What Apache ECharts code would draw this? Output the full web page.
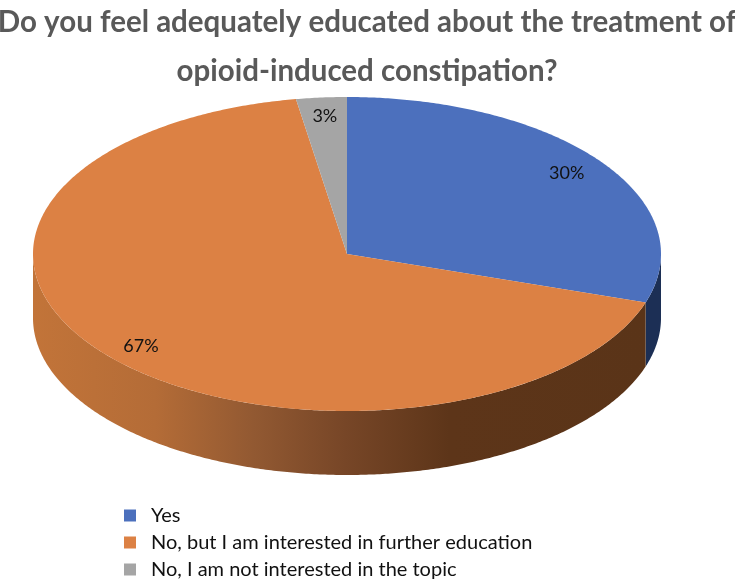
<!DOCTYPE html>
<html><head><meta charset="utf-8">
<style>html,body{margin:0;padding:0;background:#fff}#c{width:735px;height:581px}</style>
<script src="https://cdn.jsdelivr.net/npm/echarts@6/dist/echarts.min.js"></script>
</head><body><div id="c"></div>
<script>
const titleText = 'Do you feel adequately educated about the treatment of\nopioid-induced constipation?';
const categories = ['Yes', 'No, but I am interested in further education', 'No, I am not interested in the topic'];
const shares = [30, 67.4, 2.6];
const topColors = ['#4c70bd', '#dc8144', '#a5a5a5'];
const wallStops = [
  [[0, '#1c2f55'], [1, '#1c2f55']],
  [[0, '#c27439'], [0.2, '#b46c37'], [0.36, '#925932'], [0.51, '#774627'], [0.68, '#5d3519'], [1, '#5a3418']],
  [[0, '#666666'], [1, '#666666']]
];
const cx = 347, cy = 254, rx = 314, ry = 157, depth = 64;
const total = shares.reduce((a, b) => a + b, 0);
const pt = (deg, dy) => [cx + rx * Math.sin(deg * Math.PI / 180), cy - ry * Math.cos(deg * Math.PI / 180) + (dy || 0)];
function arc(a, b, dy) {
  const out = [], n = Math.max(2, Math.ceil((b - a) * 2));
  for (let i = 0; i <= n; i++) out.push(pt(a + (b - a) * i / n, dy));
  return out;
}
function makeRender(idx) {
  return function () {
    const start = shares.slice(0, idx).reduce((a, b) => a + b, 0) / total * 360;
    const end = start + shares[idx] / total * 360;
    const children = [];
    const a = Math.max(start, 90), b = Math.min(end, 270);
    if (b > a) {
      const upper = arc(a, b, 0), lower = arc(a, b, depth).reverse();
      const fill = { type: 'linear', x: cx - rx, y: 0, x2: cx + rx - 16, y2: 0, global: true,
        colorStops: wallStops[idx].map(s => ({ offset: s[0], color: s[1] })) };
      children.push({ type: 'polygon', shape: { points: upper.concat(lower) }, style: { fill: fill } });
    }
    children.push({ type: 'polygon', shape: { points: [[cx, cy]].concat(arc(start, end, 0)) },
      style: { fill: topColors[idx] } });
    const mid = (start + end) / 2 * Math.PI / 180;
    children.push({ type: 'text', z2: 10, style: {
      text: Math.round(shares[idx] / total * 100) + '%',
      x: cx + rx * 0.865 * Math.sin(mid), y: cy + 1 - ry * 0.89 * Math.cos(mid),
      align: 'center', verticalAlign: 'middle',
      font: '18px Lato', fill: '#111111' } });
    return { type: 'group', children: children };
  };
}
const chart = echarts.init(document.getElementById('c'), null, { renderer: 'canvas' });
chart.setOption({
  animation: false,
  backgroundColor: '#ffffff',
  title: { text: titleText, left: 367, top: -2, padding: 0, textAlign: 'center',
    textStyle: { fontFamily: 'Lato', fontWeight: 'bold', fontSize: 29.5, lineHeight: 49, color: '#595959' } },
  legend: { orient: 'vertical', left: 124, top: 504, padding: 0, itemWidth: 12, itemHeight: 12, itemGap: 4,
    icon: 'rect', selectedMode: false, data: categories,
    textStyle: { fontFamily: 'Lato', fontSize: 20, color: '#111111', padding: [0, 0, 0, 10], lineHeight: 23 } },
  series: categories.map((name, i) => ({
    type: 'custom', name: name, coordinateSystem: 'none', silent: true,
    itemStyle: { color: topColors[i] },
    data: [shares[i]], renderItem: makeRender(i)
  }))
});
</script></body></html>
